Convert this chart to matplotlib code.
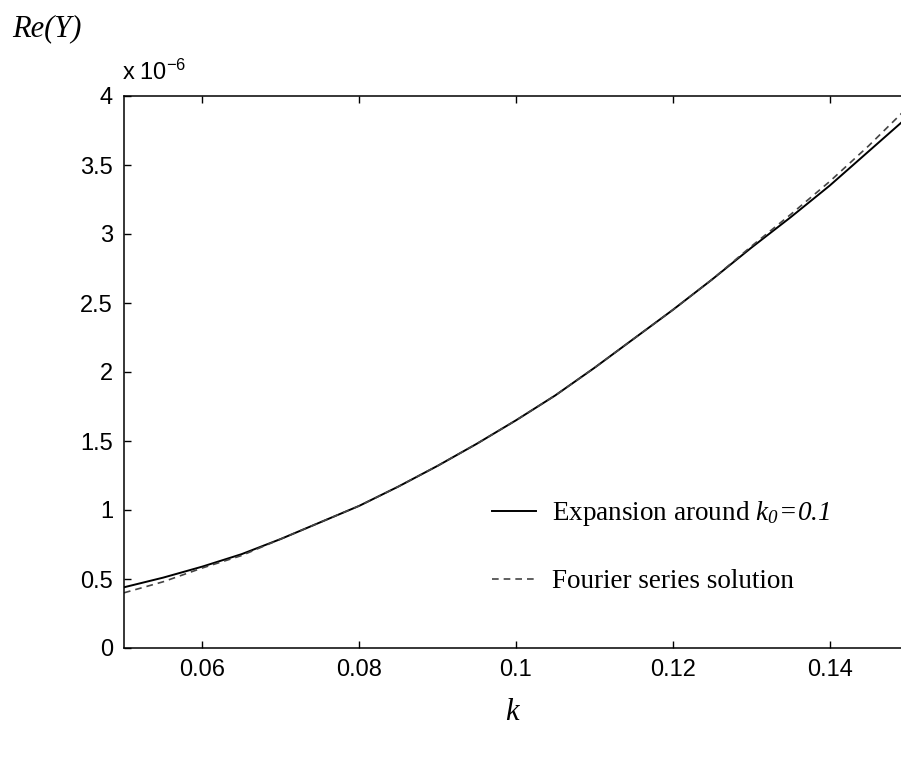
import matplotlib
matplotlib.use("Agg")
import matplotlib.pyplot as plt
import numpy as np

# values (Re(Y) in units of 1e-6)
k = [0.05, 0.055, 0.06, 0.065, 0.07, 0.075, 0.08, 0.085, 0.09, 0.095, 0.10,
     0.105, 0.11, 0.115, 0.12, 0.125, 0.13, 0.135, 0.14, 0.145, 0.15]
expansion = [0.44, 0.51, 0.59, 0.68, 0.79, 0.91, 1.03, 1.17, 1.32, 1.48, 1.65,
             1.83, 2.03, 2.24, 2.45, 2.67, 2.90, 3.12, 3.35, 3.60, 3.85]
fourier = [0.40, 0.48, 0.58, 0.67, 0.79, 0.91, 1.03, 1.17, 1.32, 1.48, 1.65,
           1.83, 2.03, 2.24, 2.45, 2.67, 2.91, 3.14, 3.38, 3.64, 3.92]

x_ticks = [0.06, 0.08, 0.1, 0.12, 0.14]
x_ticklabels = ["0.06", "0.08", "0.1", "0.12", "0.14"]
y_ticks = [0, 0.5, 1, 1.5, 2, 2.5, 3, 3.5, 4]
y_ticklabels = ["0", "0.5", "1", "1.5", "2", "2.5", "3", "3.5", "4"]

plt.rcParams['mathtext.fontset'] = 'custom'
plt.rcParams['mathtext.rm'] = 'Liberation Serif'
plt.rcParams['mathtext.it'] = 'Liberation Serif:italic'
plt.rcParams['mathtext.sf'] = 'Liberation Serif:italic'

W, H = 901, 761
fig = plt.figure(figsize=(W / 100, H / 100), dpi=100)
# axes run a little past the right edge of the picture (cropped scan)
ax = fig.add_axes([124 / W, (H - 648) / H, 784 / W, 552 / H])

ax.plot(k, expansion, color='black', lw=1.4,
        label=r"Expansion around $\mathsf{k}_{\mathsf{0}}\!\mathsf{=}\!\mathsf{0.1}$")
ax.plot(k, fourier, color='#444444', lw=1.2, ls=(0, (4, 3)), label="Fourier series solution")

ax.set_xlim(0.05, 0.15)
ax.set_ylim(0, 4)
ax.set_xticks(x_ticks)
ax.set_xticklabels(x_ticklabels)
ax.set_yticks(y_ticks)
ax.set_yticklabels(y_ticklabels)
ax.tick_params(direction='in', length=5, width=1, top=True, right=True,
               labelsize=17, pad=8)
for lab in ax.get_xticklabels() + ax.get_yticklabels():
    lab.set_family('Liberation Sans')
for sp in ax.spines.values():
    sp.set_linewidth(1.1)

# multiplier above the y axis
fig.text(122 / W, 1 - 80 / H, r"$\mathregular{x\ 10^{-6}}$", fontsize=17,
         family='Liberation Sans', ha='left', va='baseline')

fig.text(12 / W, 1 - 36 / H, "Re(Y)", fontsize=22, family='Liberation Serif',
         style='italic', ha='left', va='baseline')
fig.text(512 / W, 1 - 720 / H, "k", fontsize=22, family='Liberation Serif',
         style='italic', ha='center', va='baseline')

leg = ax.legend(loc='upper left', bbox_to_anchor=(468 / W, 1 - 475 / H),
                bbox_transform=fig.transFigure, frameon=False,
                prop={'family': 'Liberation Serif', 'size': 19.5},
                handlelength=1.6, handletextpad=0.6, labelspacing=1.5)

fig.savefig("out.png", dpi=100)
